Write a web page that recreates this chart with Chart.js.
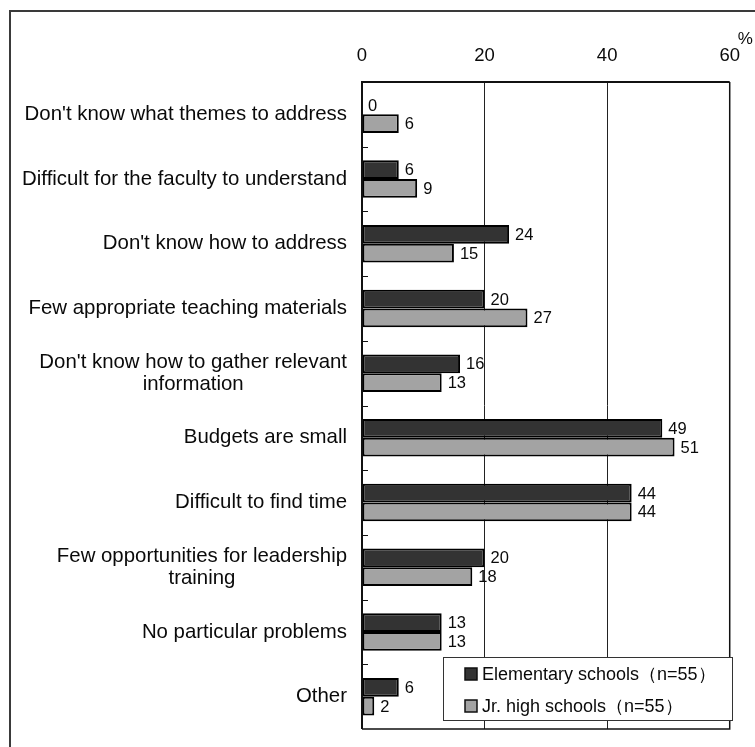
<!DOCTYPE html>
<html>
<head>
<meta charset="utf-8">
<title>Problems with environmental education</title>
<script src="https://cdn.jsdelivr.net/npm/chart.js@4.4.1/dist/chart.umd.min.js"></script>
<style>
  html, body { margin: 0; padding: 0; background: #fff; }
  #wrap { position: relative; width: 755px; height: 747px; overflow: hidden; }
  #frame { position: absolute; left: 9px; top: 10px; width: 800px; height: 800px;
           border-left: 2px solid #3a3a3a; border-top: 2px solid #3a3a3a; box-sizing: border-box; }
  #chart { position: absolute; left: 0; top: 0; }
</style>
</head>
<body>
<div id="wrap">
  <div id="frame"></div>
  <canvas id="chart" width="755" height="747"></canvas>
</div>
<script>
// categories, top to bottom
var problems = [
  ["Don't know what themes to address"],
  ["Difficult for the faculty to understand"],
  ["Don't know how to address"],
  ["Few appropriate teaching materials"],
  ["Don't know how to gather relevant", "information"],
  ["Budgets are small"],
  ["Difficult to find time"],
  ["Few opportunities for leadership", "training"],
  ["No particular problems"],
  ["Other"]
];
// % of respondents
var elementary = [0, 6, 24, 20, 16, 49, 44, 20, 13, 6];
var jrHigh     = [6, 9, 15, 27, 13, 51, 44, 18, 13, 2];
var seriesNames = ["Elementary schools\uFF08n=55\uFF09", "Jr. high schools\uFF08n=55\uFF09"];
var axisTicks = [0, 20, 40, 60];

var FONT = "'Liberation Sans', Arial, sans-serif";
Chart.defaults.font.family = FONT;
Chart.defaults.color = '#0a0a0a';

// labels, value numbers, frame and legend drawn straight on the canvas
var extras = {
  id: 'extras',
  afterDatasetsDraw: function(chart) {
    var ctx = chart.ctx, a = chart.chartArea;
    var ys = chart.scales.y;
    ctx.save();

    // plot frame
    ctx.strokeStyle = '#111';
    ctx.lineWidth = 1.5;
    ctx.beginPath();
    ctx.moveTo(a.right, a.top); ctx.lineTo(a.right, a.bottom); ctx.lineTo(a.left, a.bottom);
    ctx.stroke();
    ctx.lineWidth = 2;
    ctx.beginPath();
    ctx.moveTo(a.right, a.top); ctx.lineTo(a.left, a.top); ctx.lineTo(a.left, a.bottom);
    ctx.stroke();

    // short ticks between categories
    var band = (ys.getPixelForTick(1) - ys.getPixelForTick(0));
    ctx.lineWidth = 1;
    for (var i = 1; i < problems.length; i++) {
      var yb = Math.round(ys.getPixelForTick(i) - band / 2) + 0.5;
      ctx.beginPath(); ctx.moveTo(a.left, yb); ctx.lineTo(a.left + 6, yb); ctx.stroke();
    }

    // category labels, lines centred within each label block
    ctx.font = '20.4px ' + FONT;
    ctx.fillStyle = '#0a0a0a';
    ctx.textAlign = 'center';
    ctx.textBaseline = 'middle';
    var lh = 22;
    problems.forEach(function(lines, i) {
      var w = 0;
      lines.forEach(function(s) { w = Math.max(w, ctx.measureText(s).width); });
      var cx = a.left - 15 - w / 2;
      var cy = ys.getPixelForTick(i) - (lines.length - 1) * lh / 2;
      lines.forEach(function(s, k) { ctx.fillText(s, cx, cy + k * lh); });
    });

    // value labels
    ctx.font = '16.5px ' + FONT;
    ctx.textAlign = 'left';
    chart.data.datasets.forEach(function(ds, d) {
      chart.getDatasetMeta(d).data.forEach(function(bar, i) {
        ctx.fillText(String(ds.data[i]), bar.x + 6, bar.y + 1);
      });
    });

    // % unit
    ctx.font = '17px ' + FONT;
    ctx.fillText('%', a.right + 8, 39);

    // legend box
    var lx = 443, ly = 657, lw = 289, lhgt = 63;
    ctx.fillStyle = '#fff';
    ctx.fillRect(lx, ly, lw, lhgt);
    ctx.strokeStyle = '#333';
    ctx.lineWidth = 1;
    ctx.strokeRect(lx + 0.5, ly + 0.5, lw, lhgt);
    ctx.font = '18px ' + FONT;
    chart.data.datasets.forEach(function(ds, d) {
      var yy = ly + 17 + d * 32;
      ctx.fillStyle = ds.backgroundColor;
      ctx.fillRect(lx + 22, yy - 6, 12, 12);
      ctx.strokeStyle = '#111';
      ctx.lineWidth = 1.5;
      ctx.strokeRect(lx + 22, yy - 6, 12, 12);
      ctx.fillStyle = '#0a0a0a';
      ctx.fillText(ds.label, lx + 39, yy + 1);
    });
    ctx.restore();
  }
};

new Chart(document.getElementById('chart'), {
  type: 'bar',
  data: {
    labels: problems,
    datasets: [
      { label: seriesNames[0], data: elementary, backgroundColor: '#333333',
        borderColor: '#000', borderWidth: 2, borderSkipped: false },
      { label: seriesNames[1], data: jrHigh, backgroundColor: '#a3a3a3',
        borderColor: '#000', borderWidth: 2, borderSkipped: false }
    ]
  },
  options: {
    indexAxis: 'y',
    responsive: false,
    animation: false,
    layout: { padding: { left: 0, right: 23, top: 0, bottom: 18 } },
    datasets: { bar: { categoryPercentage: 0.58, barPercentage: 1.0 } },
    plugins: { legend: { display: false }, tooltip: { enabled: false } },
    scales: {
      x: {
        position: 'top',
        min: 0, max: 60,
        afterBuildTicks: function(s) { s.ticks = axisTicks.map(function(v) { return { value: v }; }); },
        afterFit: function(s) { s.height = 82; },
        ticks: { font: { size: 18.5 }, color: '#0a0a0a', padding: 15 },
        grid: { color: '#222', lineWidth: 1, drawTicks: false },
        border: { display: false }
      },
      y: {
        afterFit: function(s) { s.width = 362; },
        ticks: { display: false },
        grid: { display: false },
        border: { display: false }
      }
    }
  },
  plugins: [extras]
});
</script>
</body>
</html>
